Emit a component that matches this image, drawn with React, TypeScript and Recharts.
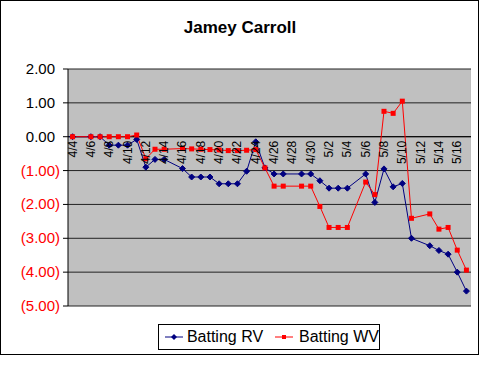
import React from 'react';
import { LineChart, Line, XAxis, YAxis, CartesianGrid, ReferenceLine } from 'recharts';

// one category per calendar day, game-less days are null
const dates = [
  '4/4', '4/5', '4/6', '4/7', '4/8', '4/9', '4/10', '4/11', '4/12', '4/13', '4/14',
  '4/15', '4/16', '4/17', '4/18', '4/19', '4/20', '4/21', '4/22', '4/23', '4/24', '4/25',
  '4/26', '4/27', '4/28', '4/29', '4/30', '5/1', '5/2', '5/3', '5/4', '5/5',
  '5/6', '5/7', '5/8', '5/9', '5/10', '5/11', '5/12', '5/13', '5/14', '5/15', '5/16', '5/17',
];

const battingRV = [
  0, null, 0, 0, -0.25, -0.25, -0.25, -0.08, -0.9, -0.67, -0.67,
  null, -0.94, -1.19, -1.19, -1.19, -1.39, -1.39, -1.39, -1.02, -0.15, -0.92,
  -1.1, -1.1, null, -1.1, -1.1, -1.3, -1.52, -1.52, -1.52, null,
  -1.1, -1.94, -0.95, -1.48, -1.38, -3.0, null, -3.22, -3.36, -3.47, -4.0, -4.56,
];

const battingWV = [
  0, null, 0, 0, 0, 0, 0, 0.05, -0.65, -0.37, -0.37,
  null, -0.35, -0.36, -0.37, -0.38, -0.39, -0.41, -0.41, -0.4, -0.38, -0.92,
  -1.46, -1.46, null, -1.46, -1.46, -2.06, -2.68, -2.68, -2.68, null,
  -1.34, -1.71, 0.75, 0.69, 1.05, -2.41, null, -2.28, -2.73, -2.68, -3.35, -3.94,
];

const yTicks = [2, 1, 0, -1, -2, -3, -4, -5];

const data = dates.map((d, i) => ({ date: d, rv: battingRV[i], wv: battingWV[i] }));

const W = 480;
const H = 366;
const TOP = 69;
const BOTTOM = 60;
const PLOT_H = H - TOP - BOTTOM;
const Y_MAX = 2;
const Y_MIN = -5;
const zeroY = TOP + (Y_MAX / (Y_MAX - Y_MIN)) * PLOT_H;
const FONT = 'Arial, "Liberation Sans", sans-serif';

const fmt = (v: number) => (v < 0 ? `(${Math.abs(v).toFixed(2)})` : v.toFixed(2));

const YTick = (props: any) => {
  const { x, y, payload } = props;
  const v = payload.value;
  return (
    <text x={v < 0 ? x - 1 : x - 6} y={y} dy={5} textAnchor="end" fontSize={15} fontFamily={FONT} fill={v < 0 ? '#ff0000' : '#000'}>
      {fmt(v)}
    </text>
  );
};

const XTick = (props: any) => {
  const { x, payload } = props;
  const ty = zeroY + 4;
  return (
    <text x={x + 4} y={ty} transform={`rotate(-90, ${x + 4}, ${ty})`} textAnchor="end" fontSize={12} fontFamily={FONT} fill="#000">
      {payload.value}
    </text>
  );
};

const Diamond = (props: any) => {
  const { cx, cy, index } = props;
  if (cx == null || cy == null) return <g key={`d-${index}`} />;
  return <polygon key={`d-${index}`} points={`${cx},${cy - 3} ${cx + 3},${cy} ${cx},${cy + 3} ${cx - 3},${cy}`} fill="#000080" stroke="#000080" />;
};

const Square = (props: any) => {
  const { cx, cy, index } = props;
  if (cx == null || cy == null) return <g key={`s-${index}`} />;
  return <rect key={`s-${index}`} x={cx - 2.5} y={cy - 2.5} width={5} height={5} fill="#ff0000" />;
};

const LegendBox = () => (
  <div style={{ position: 'absolute', left: 158, top: 324, width: 220, height: 24, border: '1px solid #000', background: '#fff', display: 'flex', alignItems: 'center', fontFamily: FONT, fontSize: 16, color: '#000', whiteSpace: 'nowrap' }}>
    <svg width={22} height={10} style={{ marginLeft: 4 }}>
      <line x1={2} y1={5} x2={20} y2={5} stroke="#000080" />
      <polygon points="11,2 14,5 11,8 8,5" fill="#000080" />
    </svg>
    <span style={{ marginLeft: 2 }}>Batting RV</span>
    <svg width={22} height={10} style={{ marginLeft: 10 }}>
      <line x1={2} y1={5} x2={20} y2={5} stroke="#ff0000" />
      <rect x={9} y={3} width={4} height={4} fill="#ff0000" />
    </svg>
    <span style={{ marginLeft: 4 }}>Batting WV</span>
  </div>
);

export default function App() {
  return (
    <div style={{ position: 'absolute', left: 0, top: 0, width: W, height: H, background: '#fff' }}>
      <div style={{ position: 'absolute', left: 0, top: 0, width: 477, height: 353, border: '1px solid #000' }} />
      <div style={{ position: 'absolute', left: 0, top: 18, width: W, textAlign: 'center', fontFamily: FONT, fontWeight: 'bold', fontSize: 17 }}>
        Jamey Carroll
      </div>
      <div style={{ position: 'absolute', left: 0, top: 0 }}>
        <LineChart width={W} height={H} data={data} margin={{ top: TOP, right: 9, bottom: BOTTOM - 1, left: 8 }}>
          <CartesianGrid yAxisId="l" vertical={false} fill="#c0c0c0" stroke="#222" />
          <XAxis dataKey="date" scale="band" height={1} axisLine={false} tickLine={false} interval={1} tick={<XTick />} />
          <YAxis
            yAxisId="l"
            domain={[Y_MIN, Y_MAX]}
            ticks={yTicks}
            width={60}
            interval={0}
            axisLine={{ stroke: '#000' }}
            tickLine={{ stroke: '#000' }}
            tickSize={5}
            tick={<YTick />}
          />
          <YAxis yAxisId="r" orientation="right" width={0} domain={[Y_MIN, Y_MAX]} tick={false} tickLine={false} axisLine={{ stroke: '#808080' }} />
          <ReferenceLine yAxisId="l" y={0} stroke="#000" />
          <Line yAxisId="l" type="linear" dataKey="rv" name="Batting RV" stroke="#000080" strokeWidth={1} dot={<Diamond />} connectNulls isAnimationActive={false} />
          <Line yAxisId="l" type="linear" dataKey="wv" name="Batting WV" stroke="#ff0000" strokeWidth={1} dot={<Square />} connectNulls isAnimationActive={false} />
        </LineChart>
      </div>
      <LegendBox />
    </div>
  );
}
